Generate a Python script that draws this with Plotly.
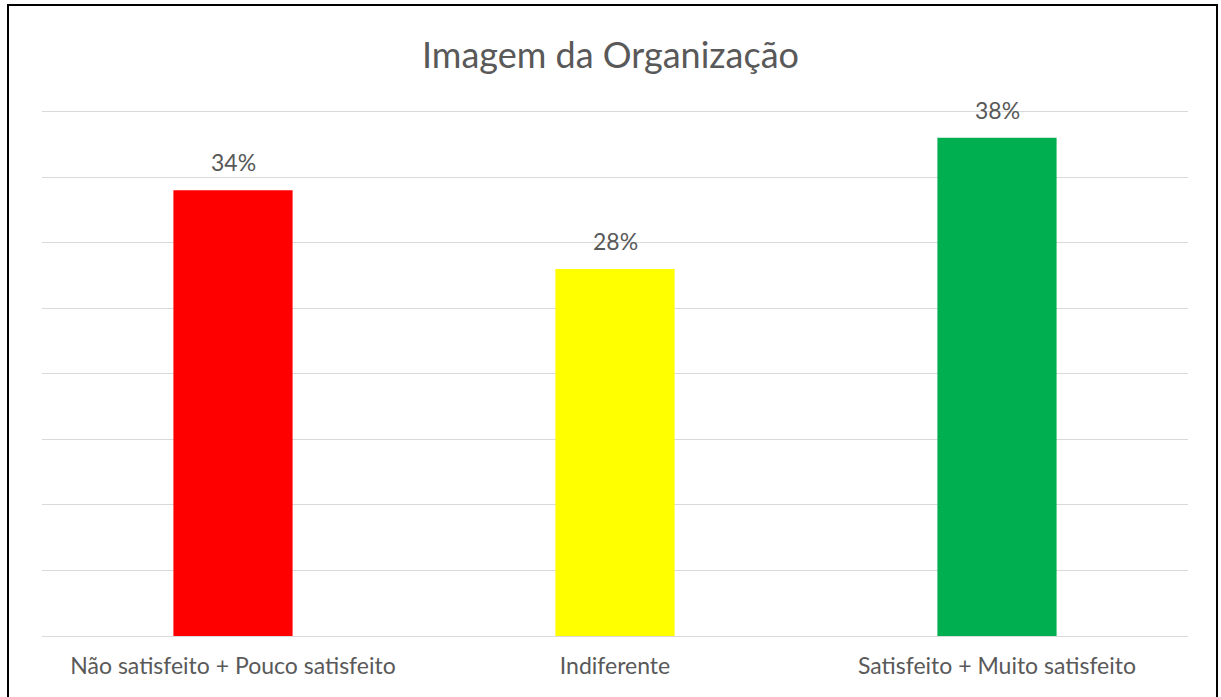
import plotly.graph_objects as go

categories = ["Não satisfeito + Pouco satisfeito", "Indiferente", "Satisfeito + Muito satisfeito"]
values = [0.34, 0.28, 0.38]
labels = ["34%", "28%", "38%"]
colors = ["#FF0000", "#FFFF00", "#00B050"]
title_text = "Imagem da Organização"

W, H = 1221, 697
L, R, T, B = 42, 33, 109, 61
pw, ph = W - L - R, H - T - B

fig = go.Figure()
fig.add_trace(go.Bar(x=categories, y=values, marker=dict(color=colors, line=dict(width=0)),
                     hoverinfo="skip", cliponaxis=False))

for c, v, t in zip(categories, values, labels):
    fig.add_annotation(x=c, y=v, text=t, showarrow=False, yanchor="bottom", yshift=12,
                       font=dict(family="Lato", size=23, color="#595959"))

fig.update_layout(
    width=W, height=H,
    margin=dict(l=L, r=R, t=T, b=B),
    paper_bgcolor="white", plot_bgcolor="white",
    bargap=0.688,
    showlegend=False,
    title=dict(text=title_text, x=0.5, xanchor="center", y=1 - 55 / H, yanchor="middle",
               yref="container", font=dict(family="Lato", size=36, color="#595959")),
    xaxis=dict(showgrid=False, showline=False, ticks="", ticklabelstandoff=14,
               tickfont=dict(family="Lato", size=23, color="#595959")),
    yaxis=dict(range=[0, 0.402], tick0=0, dtick=0.05, showticklabels=False, showgrid=True,
               gridcolor="#D9D9D9", gridwidth=1, zeroline=True, zerolinecolor="#D9D9D9",
               zerolinewidth=1, showline=False),
    shapes=[dict(type="rect", xref="paper", yref="paper",
                 x0=(8 - L) / pw, x1=(1217 - L) / pw,
                 y0=(H - B - 710) / ph, y1=(H - B - 5) / ph,
                 line=dict(color="black", width=2), fillcolor="rgba(0,0,0,0)", layer="above")],
)

fig.write_html("out.html", config={"displayModeBar": False},
               post_script="document.body.style.margin='0';document.body.style.padding='0';")
